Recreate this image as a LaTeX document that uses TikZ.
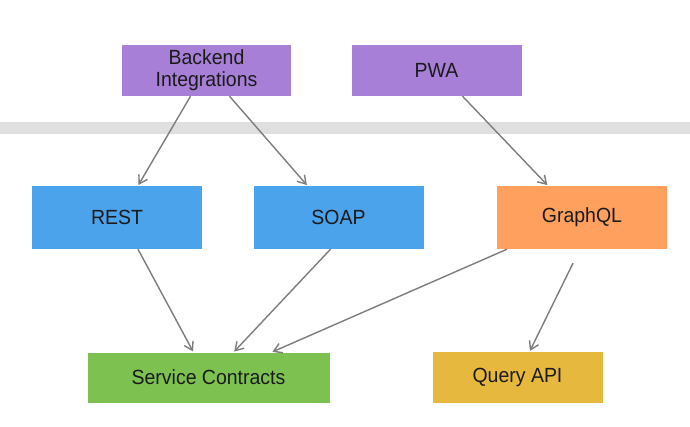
\documentclass[tikz,border=0pt]{standalone}
\usepackage{fontspec}
\setmainfont{Liberation Sans}[FakeStretch=0.95]
\usetikzlibrary{arrows.meta}
\definecolor{cpurple}{HTML}{A77FD6}
\definecolor{cblue}{HTML}{4BA3EC}
\definecolor{corange}{HTML}{FFA05E}
\definecolor{cgreen}{HTML}{7DC250}
\definecolor{cgold}{HTML}{E6B83E}
\definecolor{cband}{HTML}{DFDFDF}
\definecolor{cline}{HTML}{7D7D7D}
\definecolor{ctext}{HTML}{1A1A1A}
\tikzset{
  box/.style={rectangle, inner sep=0pt, text=ctext, align=center,
    font=\fontsize{20.5}{22}\selectfont},
  conn/.style={draw=cline, line width=1.4pt,
    -{Straight Barb[length=8pt,width=10pt,line width=1.4pt]}, shorten >=1pt}
}
\begin{document}
\begin{tikzpicture}[x=1pt,y=-1pt]
\useasboundingbox (0,0) rectangle (690,427);
\fill[white] (0,0) rectangle (690,427);
\fill[cband] (0,122) rectangle (690,134);
\node[box, fill=cpurple, minimum width=169pt, minimum height=51pt] (be) at (206.5,70.5) {Backend\\Integrations};
\node[box, fill=cpurple, minimum width=170pt, minimum height=51pt] (pwa) at (436.5,70.5) {PWA};
\node[box, fill=cblue, minimum width=170pt, minimum height=63pt] (rest) at (117,217.5) {REST};
\node[box, fill=cblue, minimum width=170pt, minimum height=63pt] (soap) at (338.5,217.5) {SOAP};
\node[box, fill=corange, minimum width=170pt, minimum height=63pt] (gql) at (582,217.5) {GraphQL};
\node[box, fill=cgreen, minimum width=242pt, minimum height=50pt] (sc) at (208.5,377.5) {Service Contracts};
\node[box, fill=cgold, minimum width=170pt, minimum height=51pt] (qa) at (517.5,377.5) {Query API};
\draw[conn] ([xshift=-16pt]be.south) -- ([xshift=21pt]rest.north);
\draw[conn] ([xshift=23pt]be.south) -- ([xshift=-31pt]soap.north);
\draw[conn] ([xshift=26pt]pwa.south) -- ([xshift=-34pt]gql.north);
\draw[conn] ([xshift=21pt]rest.south) -- ([xshift=-15pt]sc.north);
\draw[conn] ([xshift=-8pt]soap.south) -- ([xshift=25pt]sc.north);
\draw[conn] ([xshift=-75pt]gql.south) -- ([xshift=63pt]sc.north);
\coordinate (qstart) at ([xshift=-9pt,yshift=-14pt]gql.south);
\draw[conn] (qstart) -- ([xshift=12pt]qa.north);
\end{tikzpicture}
\end{document}
